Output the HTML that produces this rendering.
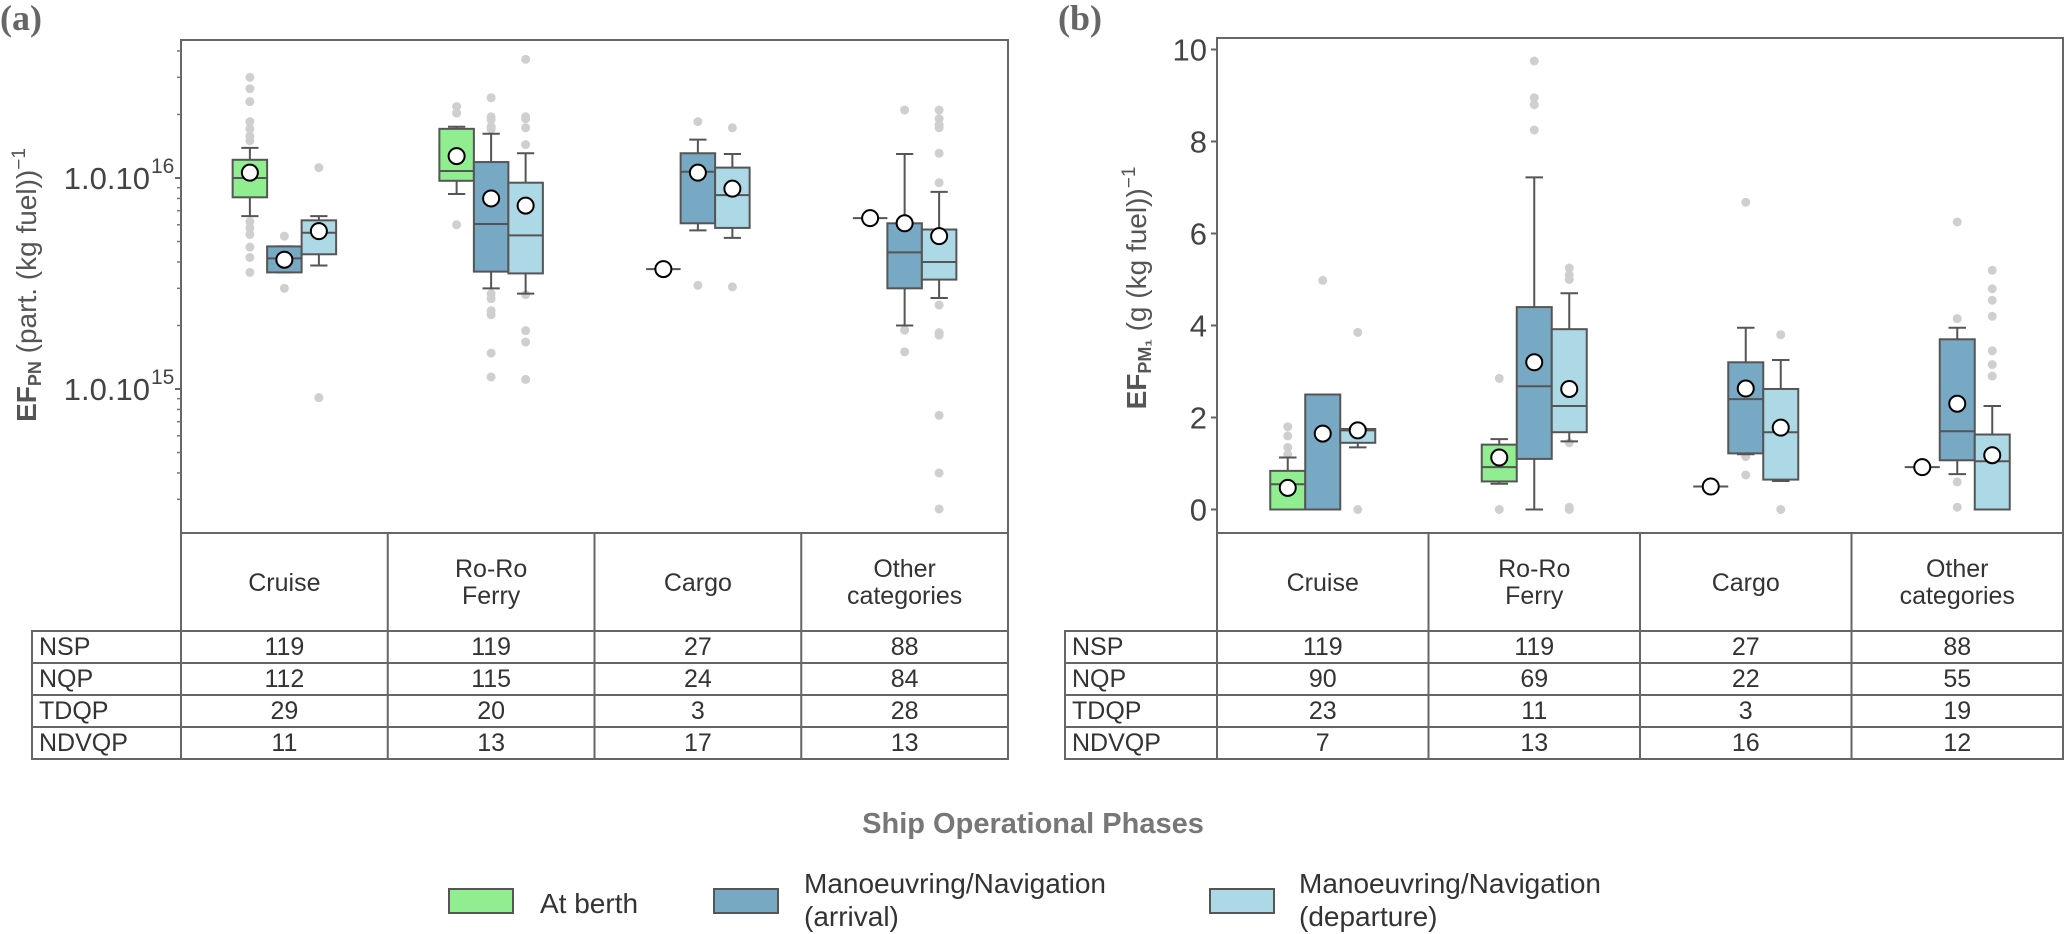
<!DOCTYPE html>
<html><head><meta charset="utf-8">
<style>
html,body{margin:0;padding:0;background:#fff;}
svg{display:block;font-family:"Liberation Sans",sans-serif;}
</style></head>
<body>
<svg id="fig" width="2067" height="934" viewBox="0 0 2067 934" xmlns="http://www.w3.org/2000/svg">
<g id="root"></g>
</svg>
<script>
// ---------- DATA ----------
const categories = ["Cruise","Ro-Ro Ferry","Cargo","Other categories"];
const phases = ["At berth","Manoeuvring/Navigation (arrival)","Manoeuvring/Navigation (departure)"];
const phaseColors = ["#90ee90","#77a8c4","#add8e6"];
// Panel (a) EF_PN : [category][phase]
const aLo  = [[6.6e15,3.57e15,3.85e15],[8.4e15,3.0e15,2.83e15],[3.7e15,5.65e15,5.2e15],[6.45e15,2.0e15,2.7e15]];
const aQ1  = [[8.1e15,3.57e15,4.35e15],[9.7e15,3.6e15,3.53e15],[3.7e15,6.1e15,5.8e15],[6.45e15,3.0e15,3.3e15]];
const aMed = [[1.0e16,4.16e15,5.5e15],[1.08e16,6.05e15,5.35e15],[3.7e15,1.07e16,8.3e15],[6.45e15,4.44e15,4.0e15]];
const aQ3  = [[1.22e16,4.74e15,6.3e15],[1.71e16,1.19e16,9.5e15],[3.7e15,1.31e16,1.12e16],[6.45e15,6.1e15,5.7e15]];
const aHi  = [[1.39e16,4.74e15,6.6e15],[1.75e16,1.62e16,1.31e16],[3.7e15,1.52e16,1.30e16],[6.45e15,1.30e16,8.6e15]];
const aMean= [[1.06e16,4.1e15,5.6e15],[1.27e16,8.0e15,7.4e15],[3.7e15,1.06e16,8.9e15],[6.45e15,6.1e15,5.3e15]];
const aOut = [
 [[3.0e16,2.65e16,2.3e16,1.85e16,1.71e16,1.58e16,1.5e16,6.2e15,5.8e15,5.4e15,4.7e15,4.2e15,3.57e15],[5.3e15,3.0e15],[1.12e16,9.1e14]],
 [[2.18e16,2.03e16,6.0e15],[2.4e16,1.95e16,1.89e16,1.75e16,1.7e16,2.83e15,2.68e15,2.35e15,2.25e15,1.48e15,1.14e15],[3.65e16,1.95e16,1.91e16,1.73e16,1.44e16,2.8e15,1.89e15,1.67e15,1.11e15]],
 [[],[1.85e16,3.1e15],[1.73e16,3.05e15]],
 [[],[2.1e16,1.9e15,1.5e15],[2.1e16,1.91e16,1.79e16,1.73e16,1.31e16,9.5e15,2.5e15,1.85e15,1.8e15,7.5e14,4.0e14,2.7e14]]
];
// Panel (b) EF_PM1
const bLo  = [[0,0,1.35],[0.56,0,1.48],[0.5,1.2,0.62],[0.92,0.77,0]];
const bQ1  = [[0,0,1.45],[0.61,1.1,1.68],[0.5,1.22,0.65],[0.92,1.07,0]];
const bMed = [[0.55,0,1.72],[0.92,2.68,2.25],[0.5,2.4,1.68],[0.92,1.7,1.05]];
const bQ3  = [[0.84,2.5,1.75],[1.41,4.4,3.92],[0.5,3.2,2.62],[0.92,3.7,1.63]];
const bHi  = [[1.13,2.5,1.78],[1.53,7.22,4.7],[0.5,3.95,3.25],[0.92,3.95,2.25]];
const bMean= [[0.47,1.65,1.72],[1.13,3.2,2.62],[0.5,2.63,1.78],[0.92,2.3,1.18]];
const bOut = [
 [[1.2,1.35,1.6,1.8],[4.98],[3.85,0]],
 [[2.85,0],[8.25,8.8,8.95,9.75],[5.0,5.1,5.25,1.45,0,0.05]],
 [[],[6.68,1.15,0.75],[3.8,0]],
 [[],[6.25,4.15,0.6,0.05],[5.2,4.8,4.55,4.2,3.45,3.15,2.9]]
];
const bTicks = [0,2,4,6,8,10];
const aMajorTicks = [1e15,1e16];
const aTickLabels = ["1.0.10","1.0.10"];
const aTickExp = ["15","16"];
const aMinorTicks = [2e14,3e14,4e14,5e14,6e14,7e14,8e14,9e14,2e15,3e15,4e15,5e15,6e15,7e15,8e15,9e15,2e16,3e16,4e16];
const rowLabels = ["NSP","NQP","TDQP","NDVQP"];
const aTable = [[119,119,27,88],[112,115,24,84],[29,20,3,28],[11,13,17,13]];
const bTable = [[119,119,27,88],[90,69,22,55],[23,11,3,19],[7,13,16,12]];

// ---------- HELPERS ----------
const NS="http://www.w3.org/2000/svg";
const root=document.getElementById('root');
function mk(tag,attrs,parent,text){const e=document.createElementNS(NS,tag);for(const k in attrs)e.setAttribute(k,attrs[k]);if(text!==undefined)e.textContent=text;(parent||root).appendChild(e);return e;}

const A={left:181,right:1008,top:40,bottom:533};
const B={left:1217,right:2063,top:38,bottom:533};
function ya(v){return 178-211*(Math.log10(v)-16);}
function yb(v){return 509.5-46*v;}
function xCat(P,i){return P.left+(P.right-P.left)/4*(i+0.5);}

function drawPanel(P,yf,Lo,Q1,Med,Q3,Hi,Mean,Out,bw,tag){
  const g=mk('g',{},root);
  
  
  mk('rect',{x:P.left,y:P.top,width:P.right-P.left,height:P.bottom-P.top,fill:'none',stroke:'#666','stroke-width':2},g);
  for(let c=0;c<4;c++){
    for(let p=0;p<3;p++){
      const cx=xCat(P,c)+(p-1)*bw;
      const bx=mk('g',{},g);
      
      
      Out[c][p].forEach(v=>{const o=mk('circle',{cx:cx,cy:yf(v),r:4.5,fill:'#cfcfcf'},bx);
        });
      const st={stroke:'#555','stroke-width':2};
      mk('line',Object.assign({x1:cx,x2:cx,y1:yf(Hi[c][p]),y2:yf(Q3[c][p])},st),bx);
      mk('line',Object.assign({x1:cx,x2:cx,y1:yf(Lo[c][p]),y2:yf(Q1[c][p])},st),bx);
      mk('line',Object.assign({x1:cx-bw/4,x2:cx+bw/4,y1:yf(Hi[c][p]),y2:yf(Hi[c][p])},st),bx);
      mk('line',Object.assign({x1:cx-bw/4,x2:cx+bw/4,y1:yf(Lo[c][p]),y2:yf(Lo[c][p])},st),bx);
      const t=yf(Q3[c][p]),b=yf(Q1[c][p]);
      if(b-t>0.5){
        mk('rect',{x:cx-bw/2,y:t,width:bw,height:b-t,fill:phaseColors[p],stroke:'#555','stroke-width':2},bx);
        mk('line',Object.assign({x1:cx-bw/2,x2:cx+bw/2,y1:yf(Med[c][p]),y2:yf(Med[c][p])},st),bx);
      } else {
        mk('line',Object.assign({x1:cx-bw/2,x2:cx+bw/2,y1:yf(Med[c][p]),y2:yf(Med[c][p])},st),bx);
      }
      const m=mk('circle',{cx:cx,cy:yf(Mean[c][p]),r:8,fill:'#fff',stroke:'#000','stroke-width':2},bx);
      
      
    }
  }
}
drawPanel(A,ya,aLo,aQ1,aMed,aQ3,aHi,aMean,aOut,34.5,'panel-a');
drawPanel(B,yb,bLo,bQ1,bMed,bQ3,bHi,bMean,bOut,35,'panel-b');

aMinorTicks.forEach(v=>{const y=ya(v);if(y>A.top&&y<A.bottom)mk('line',{x1:A.left-4,x2:A.left,y1:y,y2:y,stroke:'#777','stroke-width':1.5});});
aMajorTicks.forEach((v,i)=>{const y=ya(v);
  mk('line',{x1:A.left-6,x2:A.left,y1:y,y2:y,stroke:'#666','stroke-width':2});
  const t=mk('text',{x:150,y:y+11,'text-anchor':'end','font-size':31,fill:'#444'},root,aTickLabels[i]);
  
  mk('text',{x:151,y:y-5,'font-size':21,fill:'#444'},root,aTickExp[i]);
});
bTicks.forEach(v=>{const y=yb(v);
  mk('line',{x1:B.left-6,x2:B.left,y1:y,y2:y,stroke:'#666','stroke-width':2});
  const t=mk('text',{x:1207,y:y+11,'text-anchor':'end','font-size':31,fill:'#444'},root,String(v));
  
});

function yTitle(x,y,sub,rest,name){
  const t=mk('text',{transform:`translate(${x},${y}) rotate(-90)`,'text-anchor':'middle','font-size':28,fill:'#555'},root);
  
  mk('tspan',{'font-weight':'bold'},t,'EF');
  mk('tspan',{'font-weight':'bold','font-size':18,dy:5},t,sub);
  mk('tspan',{dy:-5},t,' '+rest);
  mk('tspan',{'font-size':19,dy:-11},t,'−1');
}
yTitle(36,285,'PN','(part. (kg fuel))','y-axis-title-a');
yTitle(1146,288,'PM₁','(g (kg fuel))','y-axis-title-b');

const la=mk('text',{x:0,y:30,'font-family':'Liberation Serif, serif','font-weight':'bold','font-size':36,fill:'#666'},root,'(a)');

const lb=mk('text',{x:1058,y:30,'font-family':'Liberation Serif, serif','font-weight':'bold','font-size':36,fill:'#666'},root,'(b)');


function drawTable(P,leftEdge,data,name){
  const g=mk('g',{},root);
  
  
  const st={stroke:'#666','stroke-width':2,fill:'none'};
  const rows=[631,663,695,727,759];
  const cw=(P.right-P.left)/4;
  mk('rect',Object.assign({x:P.left,y:P.bottom,width:P.right-P.left,height:rows[0]-P.bottom},st),g);
  for(let c=1;c<4;c++)mk('line',Object.assign({x1:P.left+cw*c,x2:P.left+cw*c,y1:P.bottom,y2:rows[4]},st),g);
  categories.forEach((c,i)=>{const cx=P.left+cw*(i+0.5);
    const parts=c==="Ro-Ro Ferry"?["Ro-Ro","Ferry"]:c==="Other categories"?["Other","categories"]:[c];
    parts.forEach((s,k)=>mk('text',{x:cx,y:(parts.length==1?591:577+k*27),'text-anchor':'middle','font-size':25,fill:'#333'},g,s));
  });
  for(let r=0;r<4;r++){
    mk('rect',Object.assign({x:leftEdge,y:rows[r],width:P.right-leftEdge,height:rows[r+1]-rows[r]},st),g);
    mk('line',Object.assign({x1:P.left,x2:P.left,y1:rows[r],y2:rows[r+1]},st),g);
    mk('text',{x:leftEdge+7,y:rows[r]+24,'font-size':25,fill:'#333'},g,rowLabels[r]);
    data[r].forEach((v,i)=>mk('text',{x:P.left+cw*(i+0.5),y:rows[r]+24,'text-anchor':'middle','font-size':25,fill:'#333'},g,String(v)));
  }
}
drawTable(A,32,aTable,'table-a');
drawTable(B,1065,bTable,'table-b');

const lt=mk('text',{x:1033,y:833,'text-anchor':'middle','font-size':29,'font-weight':'bold',fill:'#777'},root,'Ship Operational Phases');

const legX=[449,714,1210];const legTX=[540,804,1299];
const legLines=[["At berth"],["Manoeuvring/Navigation","(arrival)"],["Manoeuvring/Navigation","(departure)"]];
for(let i=0;i<3;i++){
  const g=mk('g',{},root);
  
  
  mk('rect',{x:legX[i],y:889,width:64,height:24,fill:phaseColors[i],stroke:'#555','stroke-width':2},g);
  const L=legLines[i];
  if(L.length==1)mk('text',{x:legTX[i],y:913,'font-size':28,fill:'#333'},g,L[0]);
  else{mk('text',{x:legTX[i],y:893,'font-size':28,fill:'#333'},g,L[0]);mk('text',{x:legTX[i],y:926,'font-size':28,fill:'#333'},g,L[1]);}
}
</script>
</body></html>
